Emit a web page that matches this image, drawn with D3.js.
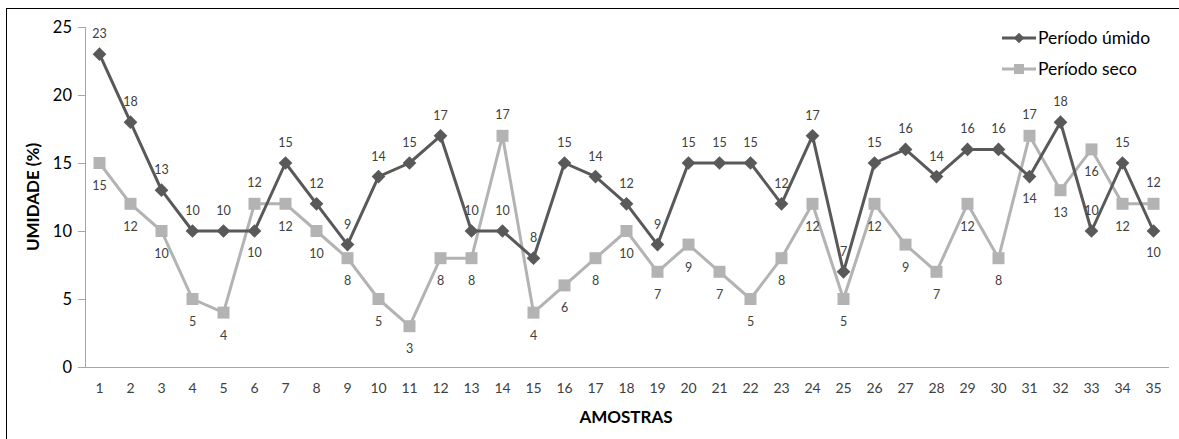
<!DOCTYPE html>
<html>
<head>
<meta charset="utf-8">
<script src="https://cdn.jsdelivr.net/npm/d3@7"></script>
<style>
  html, body { margin: 0; padding: 0; background: #fff; }
  svg { display: block; font-family: Lato, "Open Sans", sans-serif; }
</style>
</head>
<body>
<svg id="chart" width="1179" height="439"></svg>
<script>
const categories = ["1","2","3","4","5","6","7","8","9","10","11","12","13","14","15","16","17","18","19","20","21","22","23","24","25","26","27","28","29","30","31","32","33","34","35"];
const umido = [23,18,13,10,10,10,15,12,9,14,15,17,10,10,8,15,14,12,9,15,15,15,12,17,7,15,16,14,16,16,14,18,10,15,10];
const seco  = [15,12,10,5,4,12,12,10,8,5,3,8,8,17,4,6,8,10,7,9,7,5,8,12,5,12,9,7,12,8,17,13,16,12,12];
const yTicks = [0,5,10,15,20,25];
const seriesNames = ["Período úmido", "Período seco"];
const xTitle = "AMOSTRAS";
const yTitle = "UMIDADE (%)";

// label placement exceptions (style config)
const umidoBelow = new Set(["6","31","35"]);
const secoAbove = new Set(["6","14","31","35"]);

const darkC = "#595959", lightC = "#b3b3b3", axisC = "#a6a6a6", textC = "#404040";

const svg = d3.select("#chart");
svg.append("rect").attr("x", 6.5).attr("y", 8.5).attr("width", 1200).attr("height", 460)
  .attr("fill", "none").attr("stroke", "#000").attr("stroke-width", 1);

const x = d3.scaleBand().domain(categories).range([84, 1169]).padding(0);
const y = d3.scaleLinear().domain([0, 25]).range([367, 27]);
const cx = c => x(c) + x.bandwidth() / 2;

// y axis
const yAxis = svg.append("g").attr("transform", "translate(85,0)")
  .call(d3.axisLeft(y).tickValues(yTicks).tickSize(7).tickPadding(6));
yAxis.select(".domain").attr("stroke", axisC).attr("d", "M0.5,27V367");
yAxis.selectAll(".tick line").attr("stroke", axisC).attr("x2", -7);
yAxis.selectAll(".tick text").attr("fill", "#000").style("font-size", "16.5px").style("font-family", "Lato");

// x axis
const xAxis = svg.append("g").attr("transform", "translate(0,367)")
  .call(d3.axisBottom(x).tickSize(0).tickPadding(16));
xAxis.select(".domain").attr("stroke", axisC).attr("d", "M78,0.5H1169");
xAxis.selectAll(".tick text").attr("fill", textC).style("font-size", "14px").style("font-family", "Lato");

// axis titles
svg.append("text").attr("x", 626).attr("y", 423).attr("text-anchor", "middle")
  .style("font-size", "17px").style("font-weight", "bold").attr("fill", "#000").text(xTitle);
svg.append("text").attr("transform", "translate(39,197) rotate(-90)").attr("text-anchor", "middle")
  .style("font-size", "17px").style("font-weight", "bold").attr("fill", "#000").text(yTitle);

const line = d3.line().x(d => cx(d.c)).y(d => y(d.v));
const dUm = categories.map((c, i) => ({c, v: umido[i]}));
const dSe = categories.map((c, i) => ({c, v: seco[i]}));

// seco series
svg.append("path").datum(dSe).attr("d", line).attr("fill", "none")
  .attr("stroke", lightC).attr("stroke-width", 3).attr("stroke-linejoin", "round");
svg.selectAll(".sq").data(dSe).join("rect").attr("class", "sq")
  .attr("x", d => cx(d.c) - 6).attr("y", d => y(d.v) - 6).attr("width", 12).attr("height", 12)
  .attr("fill", lightC);

// umido series
svg.append("path").datum(dUm).attr("d", line).attr("fill", "none")
  .attr("stroke", darkC).attr("stroke-width", 3).attr("stroke-linejoin", "round");
svg.selectAll(".dm").data(dUm).join("path").attr("class", "dm")
  .attr("d", d3.symbol(d3.symbolDiamond2, 120))
  .attr("transform", d => `translate(${cx(d.c)},${y(d.v)})`)
  .attr("fill", darkC);

// labels
svg.selectAll(".lu").data(dUm).join("text").attr("class", "lu")
  .attr("x", d => cx(d.c))
  .attr("y", d => y(d.v) + (umidoBelow.has(d.c) ? 26 : -16))
  .attr("text-anchor", "middle").style("font-size", "12.5px").attr("fill", textC)
  .text(d => d.v);
svg.selectAll(".ls").data(dSe).join("text").attr("class", "ls")
  .attr("x", d => cx(d.c))
  .attr("y", d => y(d.v) + (secoAbove.has(d.c) ? -17 : 27))
  .attr("text-anchor", "middle").style("font-size", "12.5px").attr("fill", textC)
  .text(d => d.v);

// legend
const leg = svg.append("g");
[[darkC, "dm"], [lightC, "sq"]].forEach(([col, shape], i) => {
  const ly = 38 + i * 31;
  leg.append("line").attr("x1", 1002).attr("x2", 1036).attr("y1", ly).attr("y2", ly)
    .attr("stroke", col).attr("stroke-width", 3);
  if (shape === "dm") {
    leg.append("path").attr("d", d3.symbol(d3.symbolDiamond2, 70)).attr("transform", `translate(1019,${ly})`).attr("fill", col);
  } else {
    leg.append("rect").attr("x", 1014).attr("y", ly - 5).attr("width", 10).attr("height", 10).attr("fill", col);
  }
  leg.append("text").attr("x", 1038).attr("y", ly + 6).style("font-size", "17.5px").attr("fill", "#000").text(seriesNames[i]);
});
</script>
</body>
</html>
